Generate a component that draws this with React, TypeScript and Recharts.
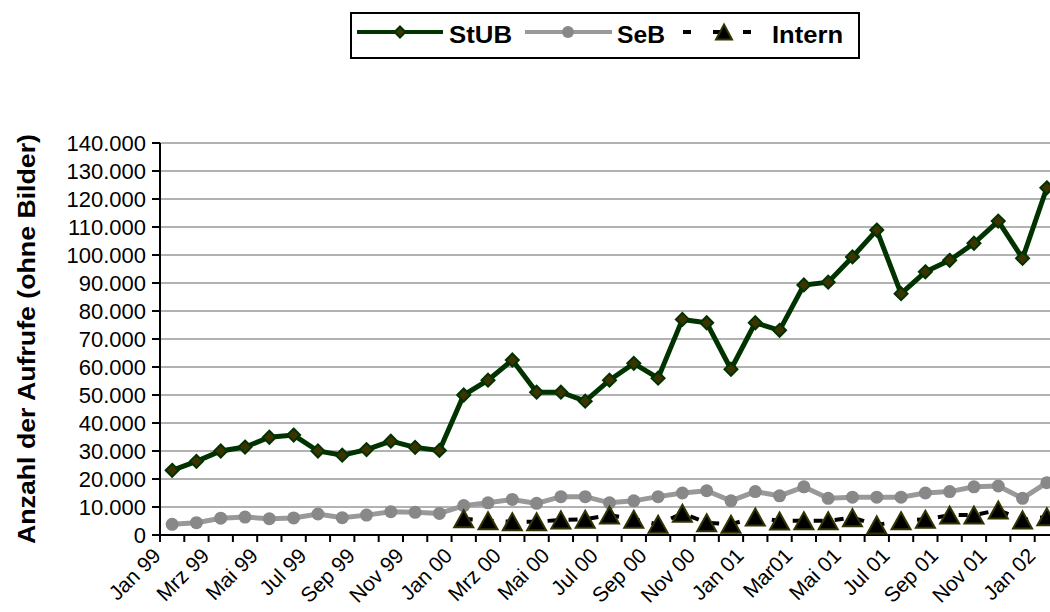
import React from 'react';
import { LineChart, Line, XAxis, YAxis, CartesianGrid, Legend } from 'recharts';

// Monatsbeschriftungen (wie im Original, inkl. "Mar01")
const months = [
  'Jan 99', 'Feb 99', 'Mrz 99', 'Apr 99', 'Mai 99', 'Jun 99', 'Jul 99', 'Aug 99', 'Sep 99', 'Okt 99', 'Nov 99', 'Dez 99',
  'Jan 00', 'Feb 00', 'Mrz 00', 'Apr 00', 'Mai 00', 'Jun 00', 'Jul 00', 'Aug 00', 'Sep 00', 'Okt 00', 'Nov 00', 'Dez 00',
  'Jan 01', 'Feb 01', 'Mar01', 'Apr 01', 'Mai 01', 'Jun 01', 'Jul 01', 'Aug 01', 'Sep 01', 'Okt 01', 'Nov 01', 'Dez 01',
  'Jan 02',
];

const stub = [
  23100, 26300, 30000, 31400, 34900, 35700, 30000, 28500, 30500, 33500, 31300, 30200,
  50000, 55300, 62500, 51000, 51000, 47800, 55300, 61300, 56000, 77000, 75800, 59200,
  75800, 73100, 89300, 90300, 99300, 108900, 86200, 94000, 98100, 104200, 112100, 98800,
  124000,
];

const seb = [
  3800, 4400, 6000, 6400, 5800, 6100, 7500, 6200, 7100, 8300, 8100, 7700,
  10500, 11500, 12700, 11300, 13700, 13700, 11500, 12200, 13700, 15000, 15800, 12200,
  15500, 14000, 17200, 13100, 13500, 13500, 13500, 15000, 15500, 17200, 17500, 13100,
  18700,
];

const intern: (number | null)[] = [
  null, null, null, null, null, null, null, null, null, null, null, null,
  5800, 5100, 4750, 4750, 5400, 5600, 7100, 5600, 3800, 7750, 4400, 3800,
  6400, 5000, 5100, 5100, 6200, 3600, 5100, 5600, 7100, 7100, 8900, 5400,
  6500,
];

const yTicks = [0, 10000, 20000, 30000, 40000, 50000, 60000, 70000, 80000, 90000, 100000, 110000, 120000, 130000, 140000];

const data = months.map((month, i) => ({
  idx: i,
  month,
  stub: stub[i],
  seb: seb[i],
  intern: intern[i],
}));

// Teilstriche liegen zwischen den Kategorien
const boundaries = Array.from({ length: months.length + 1 }, (_, k) => k - 0.5);

const STUB_LINE = '#003300';
const STUB_FILL = '#3d3300';
const SEB_COLOR = '#999999';
const SEB_DOT = '#888888';
const TRI_STROKE = '#333300';
const FONT = '"Liberation Sans", Arial, sans-serif';

function formatDe(v: number) {
  return String(v).replace(/\B(?=(\d{3})+(?!\d))/g, '.');
}

function Diamond({ cx, cy, s = 6.5 }: { cx: number; cy: number; s?: number }) {
  return (
    <path
      d={`M${cx},${cy - s} L${cx + s},${cy} L${cx},${cy + s} L${cx - s},${cy} Z`}
      fill={STUB_FILL}
      stroke={STUB_LINE}
      strokeWidth={2}
    />
  );
}

function Triangle({ cx, cy, w = 19, h = 17 }: { cx: number; cy: number; w?: number; h?: number }) {
  return (
    <path
      d={`M${cx},${cy - h / 2} L${cx + w / 2},${cy + h / 2} L${cx - w / 2},${cy + h / 2} Z`}
      fill="#000"
      stroke={TRI_STROKE}
      strokeWidth={2}
      strokeLinejoin="miter"
    />
  );
}

function MonthTick(props: any) {
  const { x, y, payload } = props;
  const k = Math.round(payload.value + 0.5);
  if (k % 2 !== 0 || k >= months.length) return <g />;
  const tx = x + 2;
  const ty = y + 13;
  return (
    <text x={tx} y={ty} transform={`rotate(-45, ${tx}, ${ty})`} textAnchor="end" fontSize={21} fill="#000" fontFamily={FONT}>
      {months[k]}
    </text>
  );
}

function YTitle(props: any) {
  const vb = props.viewBox || { x: 0, y: 143, width: 160, height: 392 };
  const cx = vb.x + 27;
  const cy = vb.y + vb.height / 2;
  return (
    <text
      x={cx}
      y={cy}
      transform={`rotate(-90, ${cx}, ${cy})`}
      textAnchor="middle"
      dominantBaseline="central"
      fontSize={23}
      fontWeight="bold"
      fontFamily={FONT}
      fill="#000"
      textLength={410}
      lengthAdjust="spacingAndGlyphs"
    >
      Anzahl der Aufrufe (ohne Bilder)
    </text>
  );
}

function LegendBox() {
  const textProps = { fontSize: 23, fontWeight: 'bold' as const, fontFamily: FONT, fill: '#000', lengthAdjust: 'spacingAndGlyphs' };
  return (
    <svg width={510} height={47} style={{ display: 'block' }}>
      <rect x={1} y={1} width={508} height={45} fill="#fff" stroke="#000" strokeWidth={2} />
      <line x1={7} x2={93} y1={20} y2={20} stroke={STUB_LINE} strokeWidth={4} />
      <Diamond cx={50} cy={20} s={5.5} />
      <text x={99} y={30.5} textLength={63} {...textProps}>StUB</text>
      <line x1={175} x2={262} y1={20} y2={20} stroke={SEB_COLOR} strokeWidth={4} />
      <circle cx={218} cy={20} r={6} fill={SEB_DOT} />
      <text x={267} y={30.5} textLength={48} {...textProps}>SeB</text>
      <line x1={333} x2={401} y1={20} y2={20} stroke="#000" strokeWidth={4} strokeDasharray="8 22" />
      <Triangle cx={374} cy={20} w={16} h={15} />
      <text x={422} y={30.5} textLength={71} {...textProps}>Intern</text>
    </svg>
  );
}

export default function App() {
  return (
    <div
      style={{
        position: 'fixed',
        left: 0,
        top: 0,
        width: 1050,
        height: 612,
        overflow: 'hidden',
        background: '#fff',
        fontFamily: FONT,
      }}
    >
      <LineChart width={1070} height={612} data={data} margin={{ top: 143, right: 11, bottom: 0, left: 0 }}>
        <CartesianGrid vertical={false} stroke="#666666" strokeWidth={1} />
        <XAxis
          type="number"
          dataKey="idx"
          domain={[-0.5, months.length - 0.5]}
          ticks={boundaries}
          interval={0}
          height={77}
          axisLine={{ stroke: '#000', strokeWidth: 2 }}
          tickLine={{ stroke: '#000', strokeWidth: 2 }}
          tickSize={7}
          tick={<MonthTick />}
        />
        <YAxis
          width={160}
          domain={[0, 140000]}
          ticks={yTicks}
          interval={0}
          tickFormatter={formatDe}
          axisLine={{ stroke: '#000', strokeWidth: 2 }}
          tickLine={{ stroke: '#000', strokeWidth: 2 }}
          tickSize={8}
          tickMargin={6}
          tick={{ fill: '#000', fontSize: 22, fontFamily: FONT }}
          label={<YTitle />}
        />
        <Legend
          layout="horizontal"
          verticalAlign="middle"
          align="center"
          wrapperStyle={{ top: 12, left: 350, width: 510, height: 47 }}
          content={() => <LegendBox />}
        />
        <Line
          type="linear"
          dataKey="stub"
          name="StUB"
          stroke={STUB_LINE}
          strokeWidth={5}
          isAnimationActive={false}
          dot={(p: any) => <Diamond key={`d-${p.index}`} cx={p.cx} cy={p.cy} />}
        />
        <Line
          type="linear"
          dataKey="seb"
          name="SeB"
          stroke={SEB_COLOR}
          strokeWidth={5}
          isAnimationActive={false}
          dot={(p: any) => <circle key={`c-${p.index}`} cx={p.cx} cy={p.cy} r={6.5} fill={SEB_DOT} />}
        />
        <Line
          type="linear"
          dataKey="intern"
          name="Intern"
          stroke="#000"
          strokeWidth={4}
          strokeDasharray="9 12"
          isAnimationActive={false}
          dot={(p: any) =>
            p.value == null || p.cy == null ? <g key={`t-${p.index}`} /> : <Triangle key={`t-${p.index}`} cx={p.cx} cy={p.cy} />
          }
        />
      </LineChart>
    </div>
  );
}
